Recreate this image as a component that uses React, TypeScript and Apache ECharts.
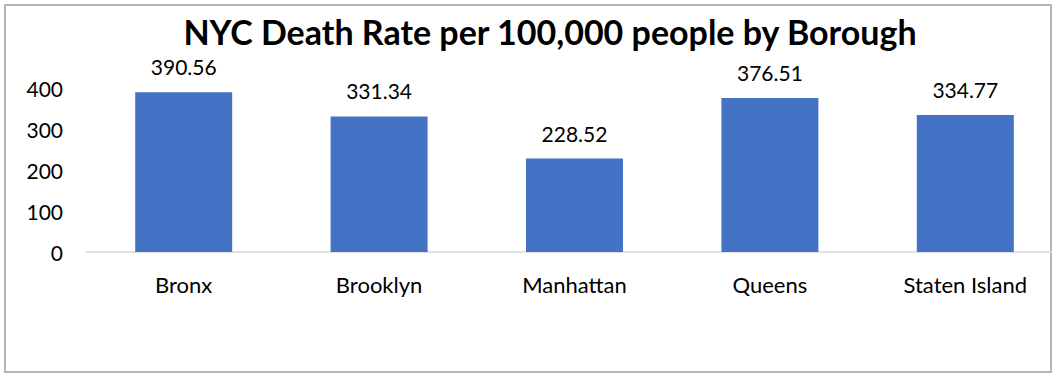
import React, { useEffect, useRef } from "react";
import * as echarts from "echarts";

const categories = ["Bronx", "Brooklyn", "Manhattan", "Queens", "Staten Island"];
const deathRates = [390.56, 331.34, 228.52, 376.51, 334.77];
const yTicks = [0, 100, 200, 300, 400];

const FONT = "Lato, 'Noto Sans', sans-serif";

export default function App() {
  const ref = useRef<HTMLDivElement>(null);
  useEffect(() => {
    if (!ref.current) return;
    const chart = echarts.init(ref.current, undefined, { renderer: "svg" });
    chart.setOption({
      animation: false,
      backgroundColor: "#ffffff",
      title: {
        text: "NYC Death Rate per 100,000 people by Borough",
        left: 545,
        top: 9,
        textAlign: "center",
        textStyle: { fontFamily: FONT, fontWeight: "bold", fontSize: 34, color: "#000000" },
      },
      graphic: [
        {
          type: "rect",
          shape: { x: 5, y: 5, width: 1046, height: 367 },
          style: { fill: "none", stroke: "#b4b4b4", lineWidth: 2 },
          silent: true,
        },
      ],
      grid: { left: 86, top: 88.4, width: 977, height: 163.6, containLabel: false },
      xAxis: {
        type: "category",
        data: categories,
        axisLine: { show: true, lineStyle: { color: "#d9d9d9", width: 1.5 } },
        axisTick: { show: false },
        axisLabel: { fontFamily: FONT, fontSize: 22, color: "#000000", margin: 21 },
      },
      yAxis: {
        type: "value",
        min: yTicks[0],
        max: yTicks[yTicks.length - 1],
        interval: 100,
        splitLine: { show: false },
        axisLine: { show: false },
        axisTick: { show: false },
        axisLabel: { fontFamily: FONT, fontSize: 21, color: "#000000", margin: 23 },
      },
      series: [
        {
          type: "bar",
          data: deathRates,
          barWidth: 97,
          itemStyle: { color: "#4472c4" },
          label: {
            show: true,
            position: "top",
            distance: 15,
            fontFamily: FONT,
            fontSize: 21,
            color: "#000000",
            formatter: (p: any) => p.value.toFixed(2),
          },
        },
      ],
    });
    return () => chart.dispose();
  }, []);
  return (
    <div style={{ position: "absolute", left: 0, top: 0, width: 1052, height: 375, overflow: "hidden" }}>
      <div ref={ref} style={{ position: "absolute", left: 0, top: 0, width: 1100, height: 375 }} />
    </div>
  );
}
